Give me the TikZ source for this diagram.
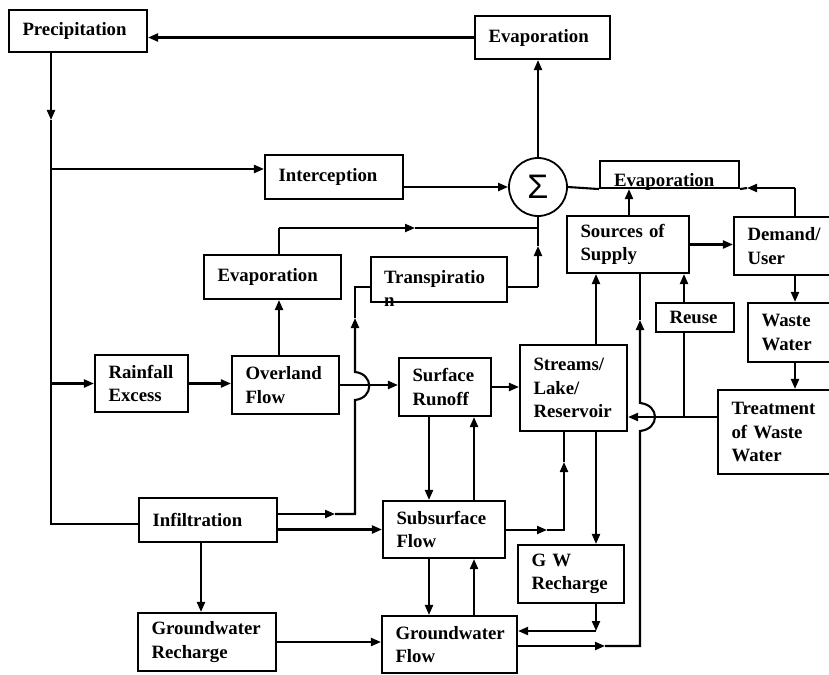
\documentclass[tikz,border=0pt]{standalone}
\usepackage{fontspec}
\setmainfont{Liberation Serif}
\newfontfamily\sigfont{Liberation Sans}
\usetikzlibrary{arrows.meta}
\begin{document}
\begin{tikzpicture}[x=1pt,y=-1pt,line width=2.1pt,line join=miter,
  arr/.style={-{Triangle[length=10pt,width=8pt]}},
  box/.style={draw,rectangle,inner xsep=13.5pt,inner ysep=0pt,align=left,
    font=\bfseries\fontsize{18.8}{23.5}\selectfont},
  bx/.style 2 args={box,text width=#1,minimum height=#2},
  lbl/.style={inner sep=0pt,font=\bfseries\fontsize{18.8}{23.5}\selectfont}]
\useasboundingbox (0,0) rectangle (829,674);
\clip (0,0) rectangle (829,674);
\fill[white] (0,0) rectangle (829,674);

% ---------- boxes ----------
\node[bx={111pt}{42pt}] (prec)    at (78,31)     {Precipitation};
\node[bx={108pt}{43pt}] (evtop)   at (542.5,37.5) {Evaporation};
\node[bx={111pt}{44pt}] (inter)   at (334,177)   {Interception};
\node[draw,circle,minimum size=58pt,inner sep=0pt,line width=1.8pt] (sig) at (538,187)
     {\sigfont\fontsize{34}{34}\selectfont Σ};
\node[bx={112pt}{27pt}] (evR)     at (669.5,174.5) {};
\node[lbl,anchor=base west] (evRtxt) at (613,186) {Evaporation};
\node[bx={95pt}{57pt}]  (sources) at (628,244.5) {Sources of\\Supply};
\node[bx={84pt}{58pt}]  (demand)  at (789.5,246) {Demand/\\User};
\node[bx={110pt}{44pt}] (evL)     at (272.5,277) {Evaporation};
\node[bx={109pt}{45pt}] (transp)  at (439,279.5) {};
\node[lbl,anchor=base west] (trA) at (383,283) {Transpiratio};
\node[lbl,anchor=base west] (trB) at (383,306) {n};
\node[bx={51pt}{29pt}]  (reuse)   at (695,317.5) {Reuse};
\node[bx={70pt}{59pt}]  (waste)   at (796.5,332.5) {Waste\\Water};
\node[bx={66pt}{57pt}]  (rain)    at (141.5,383.5) {Rainfall\\Excess};
\node[bx={80pt}{58pt}]  (over)    at (285.5,385) {Overland\\Flow};
\node[bx={65pt}{58pt}]  (surf)    at (445,387)   {Surface\\Runoff};
\node[bx={80pt}{86pt}]  (streams) at (573.5,388) {Streams/\\Lake/\\Reservoir};
\node[bx={100pt}{84pt}] (treat)   at (781.5,432) {Treatment\\of Waste\\Water};
\node[bx={111pt}{44pt}] (infil)   at (208,520)   {Infiltration};
\node[bx={95pt}{57pt}]  (subs)    at (444,529.5) {Subsurface\\Flow};
\node[bx={79pt}{58pt}]  (gwr)     at (571,574)   {G W\\Recharge};
\node[bx={111pt}{58pt}] (gwrech)  at (207,642)   {Groundwater\\Recharge};
\node[bx={108pt}{57pt}] (gwflow)  at (449.5,644.5) {Groundwater\\Flow};

% ---------- routing points ----------
\coordinate (pvA) at (51,120);
\coordinate (pvB) at (51,524);
\coordinate (brI) at (51,169);
\coordinate (eA)  at (279,228);
\coordinate (eM)  at (415,228);
\coordinate (eJ)  at (538,228);
\coordinate (tA)  at (538,287);
\coordinate (tM)  at (538,246);
\coordinate (iA)  at (335,514);
\coordinate (iB)  at (355,514);
\coordinate (iH1) at (355,400);
\coordinate (iH2) at (355,372);
\coordinate (iM)  at (355,318);
\coordinate (iC)  at (355,287);
\coordinate (gx)  at (201,0);
\coordinate (sx1) at (429,0);
\coordinate (sx2) at (474,0);
\coordinate (sA)  at (547,530);
\coordinate (sB)  at (564,530);
\coordinate (sM)  at (564,462);
\coordinate (rx)  at (596,0);
\coordinate (gA)  at (596,631);
\coordinate (fA)  at (605,646);
\coordinate (fB)  at (640,646);
\coordinate (fH1) at (640,431);
\coordinate (fH2) at (640,403);
\coordinate (fM)  at (640,320);
\coordinate (tw)  at (684,417);
\coordinate (dx)  at (795,0);
\coordinate (dA)  at (795,188);
\coordinate (dM)  at (747,188);
\coordinate (ux)  at (629,0);

% ---------- connectors ----------
% atmosphere
\draw[arr] (evtop.west) -- (prec.east |- evtop.west);
\draw[arr] (sig.north) -- (evtop.south -| sig.north);
\draw[arr] (prec.south -| pvA) -- (pvA);
\draw (pvA) -- (pvB) -- (infil.west |- pvB);
\draw[arr] (brI) -- (inter.west |- brI);
\draw[arr] (pvA |- rain.west) -- (rain.west);
\draw[arr] (inter.east |- sig.west) -- (sig.west);
\draw (sig.east) -- (evR.south west);

% evaporation and transpiration back to the sum
\draw (evL.north -| eA) -- (eA);
\draw[arr] (eA) -- (eM);
\draw (eM) -- (eJ);
\draw (transp.east |- tA) -- (tA);
\draw[arr] (tA) -- (tM);
\draw (tM) -- (sig.south);
\draw[arr] (over.north -| eA) -- (evL.south -| eA);

% surface flows
\draw[arr] (rain.east) -- (over.west |- rain.east);
\draw[arr] (over.east) -- (surf.west |- over.east);
\draw[arr] (surf.east) -- (streams.west |- surf.east);

% infiltration up to transpiration, hopping over the overland flow line
\draw[arr] (infil.east |- iA) -- (iA);
\draw[arr] (iA) -- (iB) -- (iH1) .. controls +(19,-2) and +(19,2) .. (iH2) -- (iM);
\draw (iM) -- (iC) -- (transp.west |- iC);
\draw[arr] (infil.east |- subs.west) -- (subs.west);
\draw[arr] (infil.south -| gx) -- (gwrech.north -| gx);
\draw[arr] (gwrech.east) -- (gwflow.west |- gwrech.east);

% exchanges between runoff, subsurface and groundwater
\draw[arr] (surf.south -| sx1) -- (subs.north -| sx1);
\draw[arr] (subs.north -| sx2) -- (surf.south -| sx2);
\draw[arr] (subs.south -| sx1) -- (gwflow.north -| sx1);
\draw[arr] (gwflow.north -| sx2) -- (subs.south -| sx2);
\draw[arr] (subs.east |- sA) -- (sA);
\draw[arr] (sA) -- (sB) -- (sM);
\draw (sM) -- (streams.south -| sM);
\draw[arr] (streams.south -| rx) -- (gwr.north -| rx);
\draw[arr] (gwr.south -| rx) -- (gA);
\draw[arr] (gA) -- (gwflow.east |- gA);

% groundwater flow up to the sources, hopping over the return line
\draw[arr] (gwflow.east |- fA) -- (fA);
\draw[arr] (fA) -- (fB) -- (fH1) .. controls +(20,-2) and +(20,2) .. (fH2) -- (fM);
\draw (fM) -- (sources.south -| fM);

% supply and use
\draw[arr] (streams.north -| rx) -- (sources.south -| rx);
\draw[arr] (treat.west |- tw) -- (streams.east |- tw);
\draw (tw) -- (reuse.south -| tw);
\draw[arr] (reuse.north -| tw) -- (sources.south -| tw);
\draw[arr] (sources.east) -- (demand.west |- sources.east);
\draw[arr] (demand.south -| dx) -- (waste.north -| dx);
\draw[arr] (waste.south -| dx) -- (treat.north -| dx);
\draw (demand.north -| dx) -- (dA);
\draw[arr] (dA) -- (dM);
\draw (dM) -- (evR.south east);
\draw[arr] (sources.north -| ux) -- (evR.south -| ux);
\end{tikzpicture}
\end{document}
